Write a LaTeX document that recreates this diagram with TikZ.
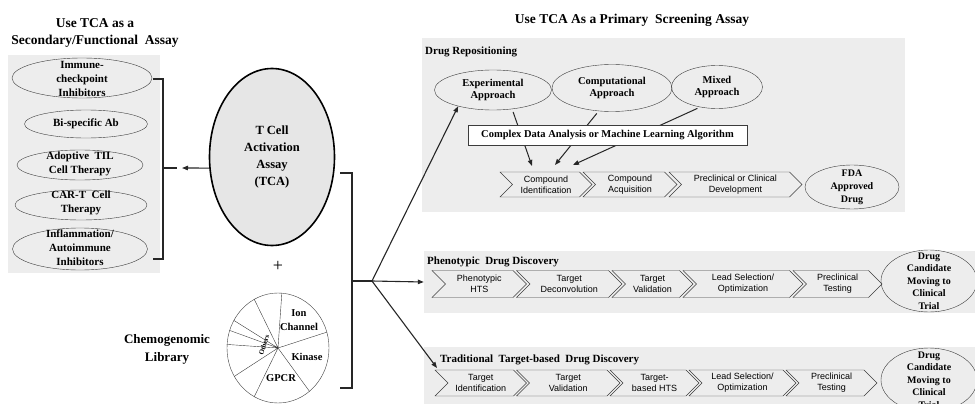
\documentclass[tikz,border=0pt]{standalone}
\usepackage{fontspec}
\setmainfont{Liberation Serif}
\newfontfamily\chevfont{Liberation Sans}
\usetikzlibrary{shapes.geometric}
\usetikzlibrary{shapes.symbols}
\usetikzlibrary{arrows.meta}

\definecolor{boxgray}{RGB}{237,237,237}
\definecolor{tcagray}{RGB}{230,230,230}
\definecolor{linegray}{RGB}{60,60,60}

\begin{document}
\begin{tikzpicture}[x=1pt,y=-1pt,
        oval/.style={ellipse,draw=linegray,inner sep=0pt},
        lbl/.style={align=center,inner sep=0pt,font=\bfseries\fontsize{10.5}{12.5}\selectfont},
        leftlbl/.style={align=center,inner sep=0pt,font=\bfseries\fontsize{11}{14}\selectfont},
        graybox/.style={rectangle,fill=boxgray,inner sep=0pt},
        boxtitle/.style={anchor=west,inner sep=0pt,font=\bfseries\fontsize{11}{13}\selectfont},
        chev/.style={signal,signal from=west,signal to=east,draw=linegray,fill=boxgray,
                     inner sep=0pt,align=center,font=\chevfont\fontsize{9}{11}\selectfont},
        arr/.style={arrows=-{Triangle[length=6pt,width=4.5pt]},line width=1.1pt,black!85}]

    \useasboundingbox (0,0) rectangle (975,404);
    \clip (0,0) rectangle (975,404);

    %\draw [help lines,step=50] (0,0) grid (975,404);

    % titles
    \path   (95,33)  node (secTitle) [align=center,font=\bfseries\fontsize{13.5}{17}\selectfont] {Use TCA as a\\Secondary/Functional\ \ Assay}
            (632,20) node (priTitle) [font=\bfseries\fontsize{13.5}{17}\selectfont] {Use TCA As a Primary\ \ Screening Assay};

    % gray panels
    \path   (84,164)    node (leftBox)  [graybox,minimum width=152,minimum height=218] {}
            (663.5,125) node (repoBox)  [graybox,minimum width=483,minimum height=174] {}
            (699.5,282) node (phenoBox) [graybox,minimum width=551,minimum height=62] {}
            (699.5,379) node (tradBox)  [graybox,minimum width=551,minimum height=64] {};

    % secondary / functional assays
    \path   (82,78)  node (imm)   [oval,minimum width=140,minimum height=40] {}
            (82,79)  node (immT)  [leftlbl] {Immune-\\checkpoint\\Inhibitors}
            (86,124) node (bis)   [oval,minimum width=123,minimum height=28] {}
            (86,124) node (bisT)  [leftlbl] {Bi-specific Ab}
            (80,165) node (til)   [oval,minimum width=126,minimum height=30] {}
            (80,164) node (tilT)  [leftlbl] {Adoptive\ \ TIL\\Cell Therapy}
            (81,205) node (cart)  [oval,minimum width=132,minimum height=30] {}
            (81,203) node (cartT) [leftlbl] {CAR-T\ \ Cell\\Therapy}
            (80,249) node (infl)  [oval,minimum width=135,minimum height=42] {}
            (80,248) node (inflT) [leftlbl] {Inflammation/\\Autoimmune\\Inhibitors};

    % TCA and library
    \path   (272,157) node (tca) [ellipse,draw=black,line width=1.6pt,fill=tcagray,inner sep=0pt,
                                  minimum width=125,minimum height=177,align=center,
                                  font=\bfseries\fontsize{12.5}{17}\selectfont] {T Cell\\Activation\\Assay\\(TCA)}
            (278,266) node (plus) [font=\fontsize{18}{18}\selectfont] {+}
            (278,348) node (pie)  [ellipse,draw=linegray,inner sep=0pt,minimum width=102,minimum height=110] {}
            (167,349) node (chemo) [align=center,font=\bfseries\fontsize{13}{18}\selectfont] {Chemogenomic\\Library};

    \draw[linegray] (pie.center) -- (pie.86)  (pie.center) -- (pie.18)
                    (pie.center) -- (pie.-54) (pie.center) -- (pie.-116)
                    (pie.center) -- (pie.-147) (pie.center) -- (pie.176)
                    (pie.center) -- (pie.160) (pie.center) -- (pie.148)
                    (pie.center) -- (pie.116);

    \path   (299,320) node (ion)    [align=center,font=\bfseries\fontsize{10.5}{14}\selectfont] {Ion\\Channel}
            (307,357) node (kinase) [font=\bfseries\fontsize{10.5}{12}\selectfont] {Kinase}
            (281,378) node (gpcr)   [font=\bfseries\fontsize{10.5}{12}\selectfont] {GPCR}
            (264,345) node (others) [rotate=72,font=\bfseries\fontsize{7}{8}\selectfont] {Others};

    % brackets
    \draw[black!85,line width=1.1pt] (153,79) -- (163,79) -- (163,259) -- (153,259);
    \draw[black!85,line width=1.1pt] (163,168) -- (177,168) coordinate (lbTick);
    \draw[black!85,line width=1.1pt] (340,173) -- (352,173) -- (352,388) -- (340,388);
    \draw[black!85,line width=1.1pt] (352,281) -- (372,281) coordinate (fan);
    \coordinate (tradTip) at (437,368);

    \draw[arr,shorten >=5pt] (node cs:name=tca,angle=190) -- (lbTick);

    % drug repositioning
    \path   (425,52)  node (repoTitle) [boxtitle] {Drug Repositioning}
            (493,90)  node (exp)  [oval,minimum width=117,minimum height=40,lbl] {Experimental\\Approach}
            (612,88)  node (comp) [oval,minimum width=120,minimum height=47,lbl] {Computational\\Approach}
            (717,87)  node (mix)  [oval,minimum width=91,minimum height=43,lbl] {Mixed\\Approach}
            (546,184.5)   node (r1) [chev,minimum width=92,minimum height=25]  {Compound\\Identification}
            (630,184.5)   node (r2) [chev,minimum width=94,minimum height=25]  {Compound\\Acquisition}
            (735.5,184.5) node (r3) [chev,minimum width=133,minimum height=25] {Preclinical or Clinical\\Development}
            (852,187) node (fda)  [oval,minimum width=94,minimum height=44] {}
            (852,187) node (fdaT) [lbl,font=\bfseries\fontsize{10}{13}\selectfont] {FDA\\Approved\\Drug};

    \coordinate (e1) at (532,166);
    \coordinate (e2) at (555,165);
    \coordinate (e3) at (573,165);
    \draw[arr,line width=1pt,shorten <=3pt] (exp.-45) -- (e1);
    \draw[arr,line width=1pt,shorten <=3pt] (comp.-120) -- (e2);
    \draw[arr,line width=1pt,shorten <=3pt] (mix.-130) -- (e3);

    \path   (607.5,135) node (cda) [draw=linegray,fill=white,inner sep=0pt,minimum width=279,minimum height=20,
                                    font=\bfseries\fontsize{10.5}{12}\selectfont] {Complex Data Analysis or Machine Learning Algorithm};

    % phenotypic drug discovery
    \path   (427,262)    node (phenoTitle) [boxtitle] {Phenotypic\ \ Drug Discovery}
            (479.25,284) node (p1) [chev,minimum width=94.5,minimum height=27]  {Phenotypic\\HTS}
            (569.25,284) node (p2) [chev,minimum width=105.5,minimum height=27] {Target\\Deconvolution}
            (652.5,284)  node (p3) [chev,minimum width=81,minimum height=27]    {Target\\Validation}
            (743,284)    node (p4) [chev,minimum width=120,minimum height=27]   {Lead Selection/\\Optimization}
            (837.5,284)  node (p5) [chev,minimum width=89,minimum height=27]    {Preclinical\\Testing}
            (929,281)    node (pc1)  [oval,minimum width=96,minimum height=62] {}
            (929,281)    node (pc1T) [lbl,font=\bfseries\fontsize{10}{12.5}\selectfont] {Drug\\Candidate\\Moving to\\Clinical\\Trial};

    % traditional target-based drug discovery
    \path   (440,360)    node (tradTitle) [boxtitle] {Traditional\ \ Target-based\ \ Drug Discovery}
            (480.75,383) node (t1) [chev,minimum width=91.5,minimum height=26]  {Target\\Identification}
            (568.25,383) node (t2) [chev,minimum width=103.5,minimum height=26] {Target\\Validation}
            (654.5,383)  node (t3) [chev,minimum width=89,minimum height=26]    {Target-\\based HTS}
            (742.5,383)  node (t4) [chev,minimum width=107,minimum height=26]   {Lead Selection/\\Optimization}
            (831.5,383)  node (t5) [chev,minimum width=91,minimum height=26]    {Preclinical\\Testing}
            (929,380)    node (pc2)  [oval,minimum width=96,minimum height=64] {}
            (929,380)    node (pc2T) [lbl,font=\bfseries\fontsize{10}{12.5}\selectfont] {Drug\\Candidate\\Moving to\\Clinical\\Trial};

    % fan out to the screening routes
    \draw[arr] (fan) -- (exp.205);
    \draw[arr] (fan) -- (phenoBox.west);
    \draw[arr] (fan) -- (tradTip);

\end{tikzpicture}
\end{document}
